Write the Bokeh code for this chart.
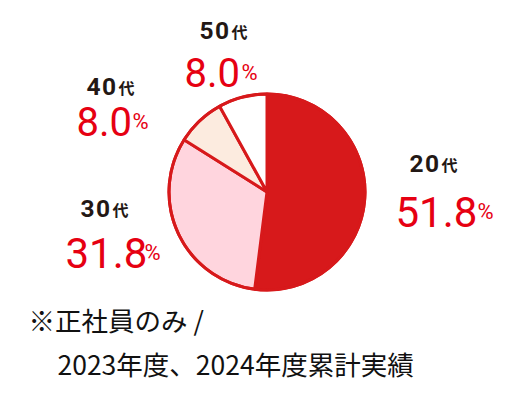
import math
from bokeh.plotting import figure
from bokeh.models import Range1d, ColumnDataSource
from bokeh.core.properties import value
from bokeh.embed import file_html
from bokeh.resources import INLINE

# ---- data ----
age_nums = ["20", "30", "40", "50"]
age_suffix = "代"
shares = [51.8, 31.8, 8.0, 8.0]
share_labels = ["51.8", "31.8", "8.0", "8.0"]
slice_colors = ["#D7191B", "#FFD5DE", "#FCEBDF", "#FFFFFF"]
note_lines = ["※正社員のみ /", "2023年度、2024年度累計実績"]

# ---- layout (page pixels) ----
W, H = 512, 388
pie_cx, pie_cy, pie_r = 266.5, 191.5, 98
age_x = [409, 80, 86, 199]
age_base = [163, 208, 86, 30]
digit_step = 15.5
suffix_dx = 32
num_x = [395, 65, 76, 184]
num_base = [211, 252, 121, 72]
num_size = ["42px", "42px", "40px", "40px"]
pct_x = [477, 144, 132, 241]
note_x = [28, 57]
note_base = [319, 363]

RED = "#D7191B"
TXT_RED = "#E60012"
INK = "#231815"


def px(x):
    return x


def py(y):
    return H - y


p = figure(width=W, height=H, output_backend="svg", toolbar_location=None,
           x_range=Range1d(0, W), y_range=Range1d(0, H), min_border=0)
p.axis.visible = False
p.grid.visible = False
p.outline_line_color = None
p.background_fill_color = "white"
p.border_fill_color = "white"

total = sum(shares)
starts, ends = [], []
cum = 0.0
for s in shares:
    starts.append(math.pi / 2 - 2 * math.pi * cum / total)
    cum += s
    ends.append(math.pi / 2 - 2 * math.pi * cum / total)

src = ColumnDataSource(dict(x=[px(pie_cx)] * 4, y=[py(pie_cy)] * 4,
                            start=starts, end=ends, color=slice_colors))
p.wedge(x="x", y="y", radius=pie_r, start_angle="start", end_angle="end",
        direction="clock", fill_color="color", line_color=RED, line_width=3,
        source=src)
p.circle(x=[px(pie_cx)], y=[py(pie_cy)], radius=pie_r, fill_color=None,
         line_color=RED, line_width=3)

common = dict(text_align="left", text_baseline="alphabetic")

# age labels (digits spaced out, then the 代 suffix)
dx, dy, dt = [], [], []
for i, a in enumerate(age_nums):
    for k, ch in enumerate(a):
        dx.append(px(age_x[i] + k * digit_step))
        dy.append(py(age_base[i]))
        dt.append(ch)
p.text(x=dx, y=dy, text=dt,
       text_font=value("Roboto"), text_font_size="24.5px",
       text_font_style="bold", text_color=INK, **common)
p.text(x=[px(v + suffix_dx) for v in age_x], y=[py(v) for v in age_base],
       text=[age_suffix] * 4,
       text_font=value("Noto Sans CJK JP"), text_font_size="16px",
       text_font_style="bold", text_color=INK, **common)

# numbers
for i in range(4):
    p.text(x=[px(num_x[i])], y=[py(num_base[i])], text=[share_labels[i]],
           text_font=value("Roboto"), text_font_size=num_size[i],
           text_color=TXT_RED, **common)
p.text(x=[px(v) for v in pct_x], y=[py(v) for v in num_base], text=["%"] * 4,
       text_font=value("Roboto"), text_font_size="22px",
       text_color=TXT_RED, **common)

# footnote
for i in range(len(note_lines)):
    p.text(x=[px(note_x[i])], y=[py(note_base[i])], text=[note_lines[i]],
           text_font=value("Noto Sans CJK JP"), text_font_size="26.5px",
           text_color="#111111", **common)

open("out.html", "w").write(file_html(p, INLINE))
